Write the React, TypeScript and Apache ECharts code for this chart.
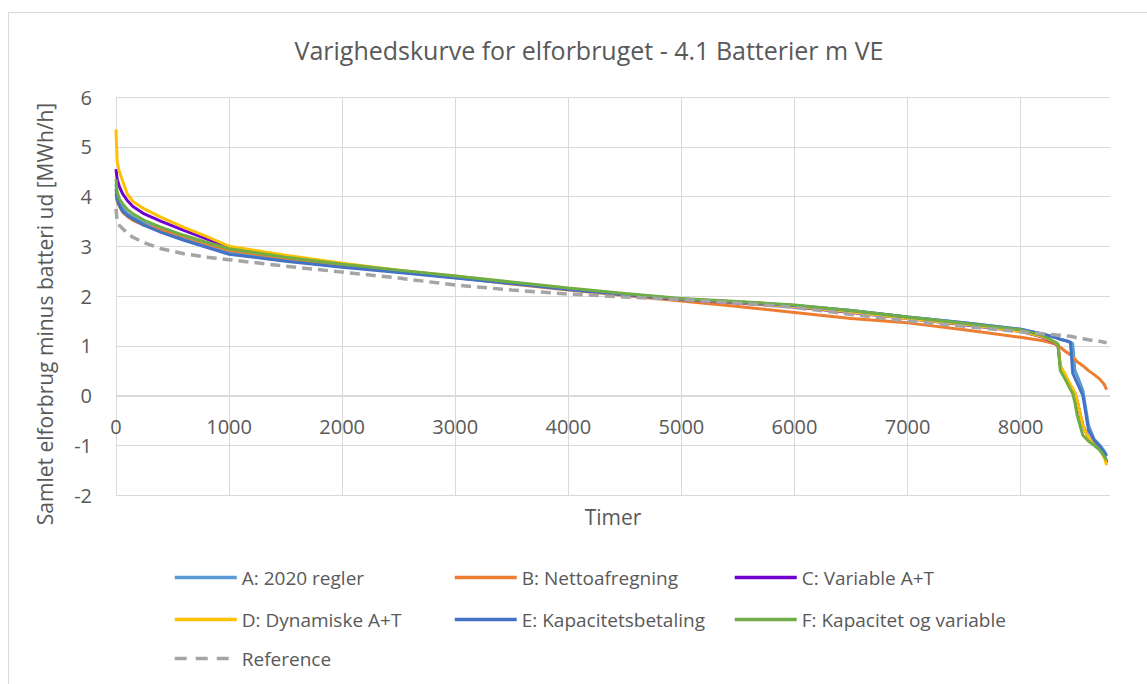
import React, { useEffect, useRef } from "react";
import * as echarts from "echarts";

const hours = [0, 10, 30, 60, 100, 150, 250, 400, 600, 800, 1000, 1500, 2000, 2500, 3000, 3500, 4000, 4500, 5000, 5500, 6000, 6500, 7000, 7500, 8000, 8200, 8300, 8330, 8350, 8400, 8440, 8460, 8480, 8500, 8550, 8600, 8650, 8700, 8740, 8760];

const serA = [4.25, 4.0, 3.88, 3.76, 3.66, 3.58, 3.46, 3.32, 3.16, 3.02, 2.88, 2.73, 2.6, 2.48, 2.37, 2.26, 2.14, 2.04, 1.94, 1.88, 1.81, 1.71, 1.58, 1.46, 1.33, 1.23, 1.17, 1.15, 1.13, 1.1, 1.07, 1.05, 0.5, 0.4, 0.1, -0.6, -0.88, -1.0, -1.12, -1.2];
const serB = [4.05, 3.9, 3.8, 3.68, 3.6, 3.52, 3.42, 3.33, 3.2, 3.05, 2.92, 2.76, 2.62, 2.49, 2.37, 2.24, 2.12, 2.01, 1.9, 1.79, 1.67, 1.55, 1.46, 1.32, 1.17, 1.1, 1.04, 1.0, 0.97, 0.88, 0.82, 0.78, 0.73, 0.68, 0.6, 0.5, 0.42, 0.33, 0.22, 0.12];
const serC = [4.55, 4.35, 4.2, 4.05, 3.92, 3.8, 3.65, 3.5, 3.32, 3.15, 2.98, 2.8, 2.65, 2.51, 2.39, 2.26, 2.14, 2.03, 1.93, 1.86, 1.78, 1.67, 1.55, 1.42, 1.29, 1.17, 1.06, 1.01, 0.6, 0.35, 0.2, 0.12, 0.04, -0.12, -0.6, -0.85, -0.97, -1.06, -1.2, -1.35];
const serD = [5.35, 4.7, 4.5, 4.3, 4.05, 3.9, 3.75, 3.58, 3.38, 3.2, 3.0, 2.82, 2.66, 2.52, 2.4, 2.27, 2.15, 2.04, 1.94, 1.87, 1.79, 1.68, 1.55, 1.43, 1.29, 1.18, 1.07, 1.02, 0.6, 0.4, 0.22, 0.14, 0.05, -0.1, -0.6, -0.85, -0.98, -1.08, -1.25, -1.4];
const serE = [4.15, 3.95, 3.82, 3.7, 3.62, 3.55, 3.42, 3.28, 3.12, 2.98, 2.84, 2.7, 2.58, 2.47, 2.36, 2.25, 2.13, 2.03, 1.94, 1.88, 1.81, 1.71, 1.58, 1.46, 1.33, 1.23, 1.17, 1.15, 1.13, 1.1, 1.07, 0.45, 0.35, 0.25, 0.0, -0.7, -0.9, -1.02, -1.15, -1.22];
const serF = [4.35, 4.1, 3.95, 3.85, 3.74, 3.65, 3.52, 3.38, 3.22, 3.08, 2.95, 2.78, 2.64, 2.52, 2.4, 2.28, 2.16, 2.05, 1.95, 1.89, 1.82, 1.71, 1.58, 1.45, 1.32, 1.2, 1.08, 1.04, 0.5, 0.3, 0.12, 0.04, -0.15, -0.4, -0.8, -0.92, -1.0, -1.1, -1.22, -1.3];
const serRef = [3.75, 3.5, 3.42, 3.35, 3.27, 3.18, 3.07, 2.95, 2.85, 2.78, 2.73, 2.6, 2.48, 2.36, 2.22, 2.12, 2.04, 1.98, 1.93, 1.86, 1.77, 1.63, 1.5, 1.39, 1.28, 1.24, 1.22, 1.21, 1.21, 1.2, 1.19, 1.18, 1.17, 1.16, 1.14, 1.12, 1.1, 1.09, 1.07, 1.06];

const names = ["A: 2020 regler", "B: Nettoafregning", "C: Variable A+T", "D: Dynamiske A+T", "E: Kapacitetsbetaling", "F: Kapacitet og variable", "Reference"];
const colors = ["#5B9BD5", "#ED7D31", "#7000D0", "#FFC000", "#4472C4", "#70AD47", "#A5A5A5"];
const seriesValues = [serA, serB, serC, serD, serE, serF, serRef];

const FONT = "'Open Sans', 'Noto Sans', sans-serif";
const TXT = "#595959";

export default function App() {
  const ref = useRef<HTMLDivElement>(null);
  useEffect(() => {
    if (!ref.current) return;
    const chart = echarts.init(ref.current, null, { renderer: "svg" });
    const legendPos = [
      [173, 578], [453, 578], [733, 578],
      [173, 620], [453, 620], [733, 620],
      [173, 659],
    ];
    chart.setOption({
      animation: false,
      backgroundColor: "#ffffff",
      title: {
        text: "Varighedskurve for elforbruget - 4.1 Batterier m VE",
        left: 584,
        textAlign: "center",
        top: 32,
        textStyle: { fontFamily: FONT, fontSize: 25, fontWeight: "normal", color: TXT },
      },
      graphic: [
        {
          type: "rect",
          shape: { x: 8.5, y: 12.5, width: 1300, height: 900 },
          style: { fill: "transparent", stroke: "#D9D9D9", lineWidth: 1 },
          silent: true,
        },
        {
          type: "text",
          x: 45,
          y: 314,
          rotation: Math.PI / 2,
          style: {
            text: "Samlet elforbrug minus batteri ud [MWh/h]",
            fontFamily: FONT,
            fontSize: 21,
            fill: TXT,
            align: "center",
            verticalAlign: "middle",
          },
        },
        {
          type: "text",
          x: 613,
          y: 517,
          style: {
            text: "Timer",
            fontFamily: FONT,
            fontSize: 21,
            fill: TXT,
            align: "center",
            verticalAlign: "middle",
          },
        },
      ],
      legend: names.map((n, i) => ({
        data: [n],
        left: legendPos[i][0],
        top: legendPos[i][1] - 10,
        padding: 0,
        itemWidth: 62,
        itemHeight: 20,
        itemGap: 0,
        itemStyle: { opacity: 0 },
        lineStyle: i === 6 ? { width: 3.5, type: [12, 9] } : { width: 3.5 },
        textStyle: { fontFamily: FONT, fontSize: 19, color: TXT },
      })),
      grid: { left: 116, right: 37, top: 97, bottom: 189, containLabel: false },
      xAxis: {
        type: "value",
        min: 0,
        max: 8790,
        interval: 1000,
        offset: -99,
        axisLine: { show: true, onZero: false, lineStyle: { color: "#D9D9D9" } },
        axisTick: { show: false },
        axisLabel: {
          margin: 20,
          fontFamily: FONT,
          fontSize: 20,
          color: TXT,
          showMaxLabel: false,
          formatter: (v: number) => String(v),
        },
        splitLine: { show: true, showMaxLine: false, lineStyle: { color: "#D9D9D9", width: 1 } },
      },
      yAxis: {
        type: "value",
        min: -2,
        max: 6,
        interval: 1,
        axisLine: { show: true, lineStyle: { color: "#D9D9D9" } },
        axisTick: { show: false },
        axisLabel: { margin: 24, fontFamily: FONT, fontSize: 20, color: TXT },
        splitLine: { show: true, lineStyle: { color: "#D9D9D9", width: 1 } },
      },
      series: names.map((n, i) => ({
        name: n,
        type: "line",
        symbol: "none",
        smooth: false,
        color: colors[i],
        lineStyle: {
          color: colors[i],
          width: i === 6 ? 3.5 : 3,
          type: i === 6 ? [10, 6] : "solid",
        },
        data: hours.map((h, k) => [h, seriesValues[i][k]]),
        z: 2 + i,
      })),
    });
    return () => chart.dispose();
  }, []);
  return (
    <div
      ref={ref}
      style={{ position: "fixed", left: 0, top: 0, width: 1147, height: 684 }}
    />
  );
}
